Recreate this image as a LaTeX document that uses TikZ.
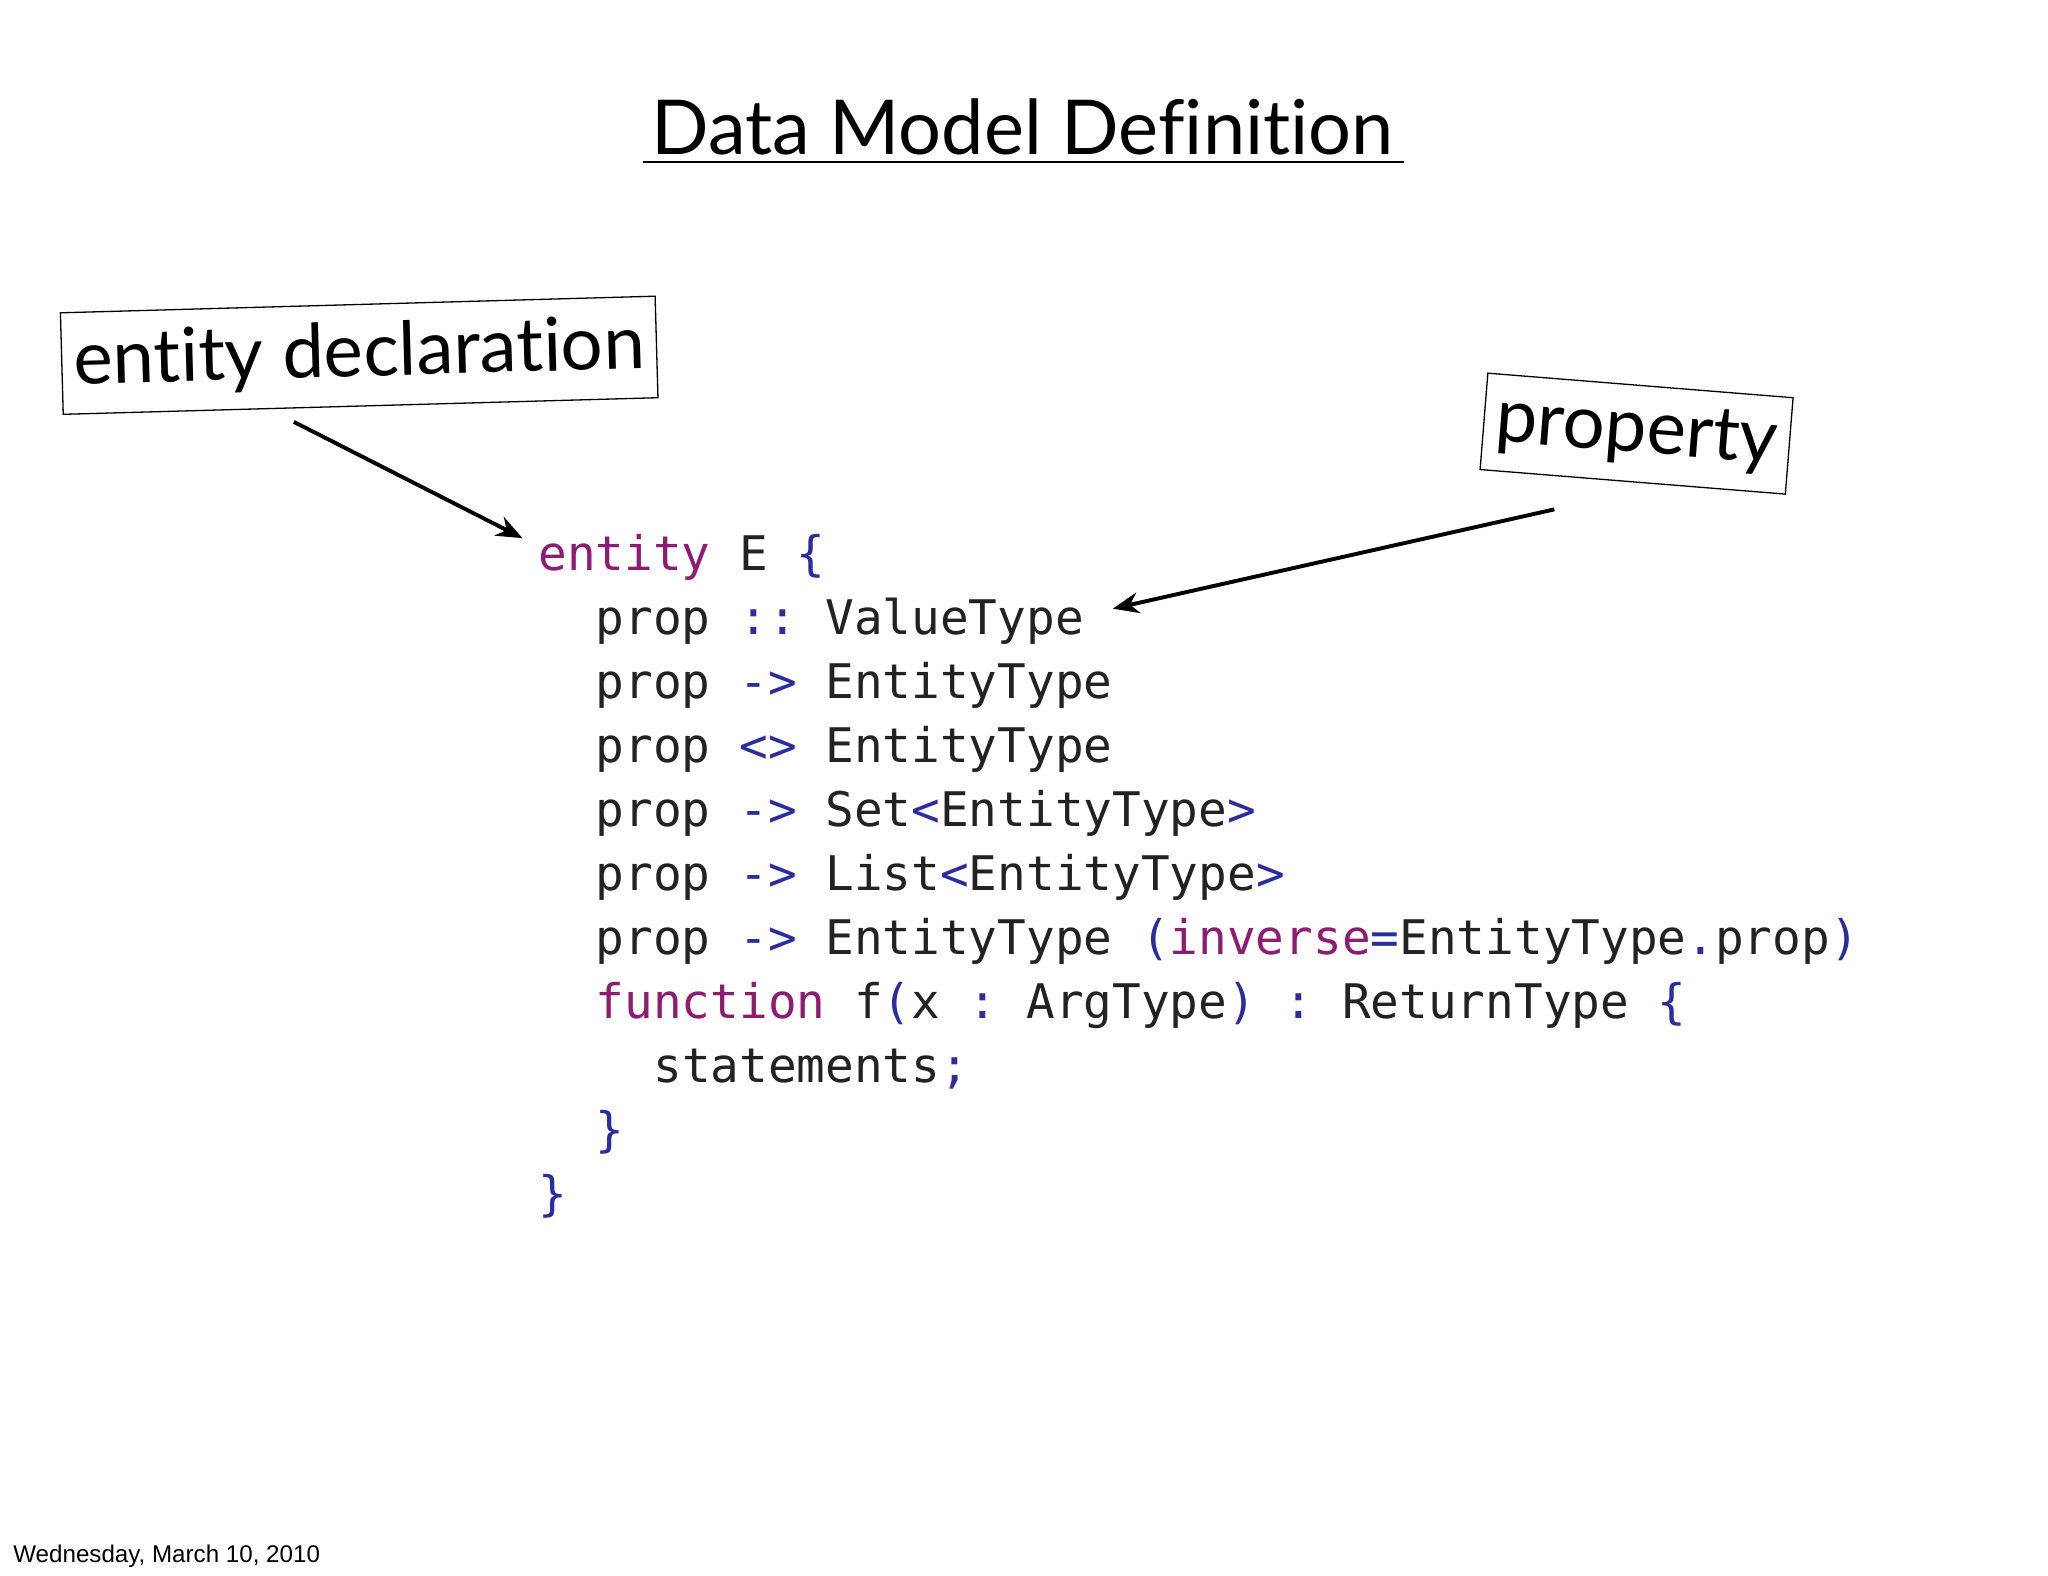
\documentclass[tikz,border=0pt]{standalone}
\usepackage{fontspec}
\usetikzlibrary{arrows.meta}
\setmainfont[RawFeature={-liga;-dlig}]{Lato}
\newfontfamily\codef{DejaVu Sans Mono}
\newfontfamily\footf{Liberation Sans}
\definecolor{kw}{HTML}{8E1C72}
\definecolor{op}{HTML}{2B2CA0}
\definecolor{tx}{HTML}{222222}
\newcommand{\kw}[1]{\textcolor{kw}{#1}}
\newcommand{\op}[1]{\textcolor{op}{#1}}
\frenchspacing
\begin{document}
\begin{tikzpicture}[x=1pt,y=-1pt,
  codeline/.style={anchor=base west,inner sep=0,font=\codef\fontsize{36.5}{40}\selectfont,text=tx},
  lbl/.style={draw,line width=1pt,inner xsep=9pt,inner ysep=13pt,font=\fontsize{57}{60}\selectfont},
  arr/.style={line width=3pt,-{Stealth[length=20pt,width=16pt]}}]
\useasboundingbox[fill=white] (0,0) rectangle (1568,1206);
\node[anchor=base,font=\fontsize{58}{60}\selectfont] (title) at (783,118) {Data Model Definition};
\draw[line width=2pt] (492,124) -- (1075,124);
\node[lbl,rotate=1.6] (ed) at (275,272) {entity declaration};
\node[lbl,rotate=-4.6] (pr) at (1253,332) {property};
\coordinate (a1) at (225,323); \coordinate (a2) at (400,412);
\coordinate (b1) at (1190,390); \coordinate (b2) at (852,466);
\draw[arr] (a1) -- (a2);
\draw[arr] (b1) -- (b2);
\node[codeline] (l1) at (412,437) {\kw{entity} E \op{\{}};
\node[codeline] (l2) at (456,486) {prop \op{::} ValueType};
\node[codeline] (l3) at (456,535) {prop \op{->} EntityType};
\node[codeline] (l4) at (456,584) {prop \op{<>} EntityType};
\node[codeline] (l5) at (456,633) {prop \op{->} Set\op{<}EntityType\op{>}};
\node[codeline] (l6) at (456,682) {prop \op{->} List\op{<}EntityType\op{>}};
\node[codeline] (l7) at (456,731) {prop \op{->} EntityType \op{(}\kw{inverse}\op{=}EntityType\op{.}prop\op{)}};
\node[codeline] (l8) at (456,780) {\kw{function} f\op{(}x \op{:} ArgType\op{)} \op{:} ReturnType \op{\{}};
\node[codeline] (l9) at (500,829) {statements\op{;}};
\node[codeline] (l10) at (456,878) {\op{\}}};
\node[codeline] (l11) at (412,927) {\op{\}}};
\node[anchor=base west,inner sep=0,font=\footf\fontsize{18.5}{20}\selectfont] (foot) at (10,1196) {Wednesday, March 10, 2010};
\end{tikzpicture}
\end{document}
